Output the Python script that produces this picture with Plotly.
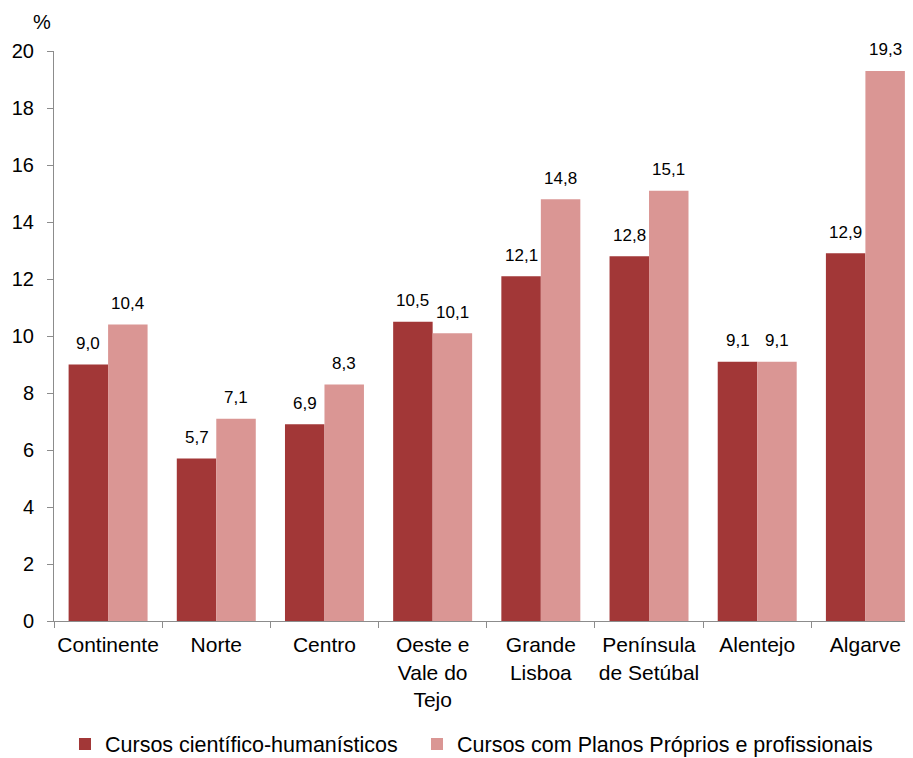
import plotly.graph_objects as go

categories = ["Continente", "Norte", "Centro", "Oeste e<br>Vale do<br>Tejo",
              "Grande<br>Lisboa", "Península<br>de Setúbal", "Alentejo", "Algarve"]
series_names = ["Cursos científico-humanísticos",
                "Cursos com Planos Próprios e profissionais"]
values_ch = [9.0, 5.7, 6.9, 10.5, 12.1, 12.8, 9.1, 12.9]
values_pp = [10.4, 7.1, 8.3, 10.1, 14.8, 15.1, 9.1, 19.3]
y_ticks = [0, 2, 4, 6, 8, 10, 12, 14, 16, 18, 20]

colors = ["#A23737", "#DA9694"]
FONT = "Liberation Sans, Arial, sans-serif"
AXIS = "#8C8C8C"

fig = go.Figure()
fig.add_trace(go.Bar(x=categories, y=values_ch, name=series_names[0], legendwidth=307,
                     marker=dict(color=colors[0], line=dict(width=0))))
fig.add_trace(go.Bar(x=categories, y=values_pp, name=series_names[1],
                     marker=dict(color=colors[1], line=dict(width=0))))

# data labels
for k, vals in enumerate([values_ch, values_pp]):
    shift = -19.7 if k == 0 else 19.7
    for c, v in zip(categories, vals):
        fig.add_annotation(x=c, y=v, text=f"{v:.1f}".replace(".", ","), showarrow=False,
                           xshift=shift, yshift=21, yanchor="middle", xanchor="center",
                           font=dict(family=FONT, size=17, color="black"))

fig.add_annotation(x=-0.014, y=1.05, xref="paper", yref="paper", text="%", showarrow=False,
                   xanchor="center", yanchor="middle", font=dict(family=FONT, size=20, color="black"))

fig.update_layout(
    width=905, height=750,
    margin=dict(l=46, r=0, t=43, b=137, autoexpand=False),
    plot_bgcolor="white", paper_bgcolor="white",
    barmode="group", bargap=0.27, bargroupgap=0,
    font=dict(family=FONT, size=20, color="black"),
    showlegend=True,
    legend=dict(orientation="h", x=0.0128, xanchor="left", y=-0.2157, yanchor="middle",
                font=dict(family=FONT, size=21.5, color="black"), itemwidth=30,
                traceorder="normal"),
    xaxis=dict(range=[-0.5, 7.44], showline=True, linecolor=AXIS, linewidth=1,
               ticks="outside", tickson="boundaries", ticklen=6, tickcolor=AXIS,
               ticklabelstandoff=5, tickangle=0,
               showgrid=False, zeroline=False, tickfont=dict(family=FONT, size=21, color="black")),
    yaxis=dict(range=[0, 20], tickvals=y_ticks, showline=True, linecolor=AXIS, linewidth=1,
               ticks="outside", ticklen=6, tickcolor=AXIS, showgrid=False, zeroline=False,
               ticklabelstandoff=9, tickfont=dict(family=FONT, size=20, color="black")),
)

fig.write_html("out.html")
